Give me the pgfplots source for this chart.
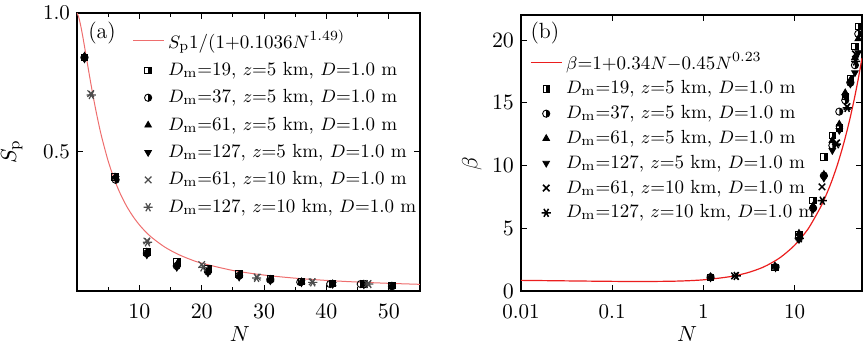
\documentclass[border=0pt]{standalone}
\usepackage{pgfplots}
\pgfplotsset{compat=1.18}
\usetikzlibrary{plotmarks}
\definecolor{fitA}{RGB}{238,110,110}
\definecolor{fitB}{RGB}{235,30,30}
\pgfdeclareplotmark{hsq}{%
  \pgfpathrectangle{\pgfpoint{-\pgfplotmarksize}{-\pgfplotmarksize}}{\pgfpoint{2\pgfplotmarksize}{2\pgfplotmarksize}}%
  \pgfusepathqstroke
  \pgfpathrectangle{\pgfpoint{0pt}{-\pgfplotmarksize}}{\pgfpoint{\pgfplotmarksize}{2\pgfplotmarksize}}%
  \pgfusepathqfill}
\pgfdeclareplotmark{hci}{%
  \pgfpathcircle{\pgfpointorigin}{\pgfplotmarksize}%
  \pgfusepathqstroke
  \pgfpathmoveto{\pgfpoint{0pt}{-\pgfplotmarksize}}%
  \pgfpatharc{-90}{90}{\pgfplotmarksize}%
  \pgfpathclose
  \pgfusepathqfill}
\begin{document}
\begin{tikzpicture}
\useasboundingbox (-38.5pt,-26pt) rectangle (393pt,145.5pt);
\pgfplotsset{
  common/.style={
    scale only axis,
    axis line style={line width=0.6pt},
    every tick/.style={line width=0.5pt,black},
    major tick length=3pt, minor tick length=2pt,
    tick align=inside,
    tick label style={font=\fontsize{10.5}{12}\selectfont},
    xticklabel style={yshift=-3pt},
    legend cell align=left,
    legend style={draw=none, fill=none, font=\fontsize{9.5}{11}\selectfont, inner sep=0pt},
    legend image code/.code={\draw[mark repeat=2,mark phase=2,##1] plot coordinates {(0cm,0cm) (0.27cm,0cm) (0.54cm,0cm)};},
  },
  s1/.style={only marks, mark=hsq, mark size=1.6pt, mark options={draw=black, fill=black, line width=0.45pt}},
  s2/.style={only marks, mark=hci, mark size=1.8pt, mark options={draw=black, fill=black, line width=0.45pt}},
  s3/.style={only marks, mark=triangle*, mark size=1.9pt, mark options={draw=black, fill=black}},
  s4/.style={only marks, mark=triangle*, mark size=1.9pt, mark options={draw=black, fill=black, rotate=180}},
  s5/.style={only marks, mark=x, mark size=2.3pt, mark options={draw=black, line width=0.75pt}},
  s6/.style={only marks, mark=asterisk, mark size=2.3pt, mark options={draw=black, line width=0.75pt, rotate=90}},
}
% ---------------- panel (a) ----------------
\begin{axis}[common,
  at={(0pt,0pt)}, anchor=south west,
  width=171.5pt, height=139pt,
  xmin=0, xmax=55, ymin=0, ymax=1,
  xtick={10,20,30,40,50}, minor xtick={5,15,25,35,45,55},
  ytick={0.5,1}, yticklabels={0.5,1.0},
  xlabel={$N$}, ylabel={$S_{\rm p}$},
  label style={font=\fontsize{11}{13}\selectfont},
  x label style={at={(axis description cs:0.475,-0.155)}, anchor=center},
  y label style={at={(axis description cs:-0.19,0.5)}, anchor=center},
  legend style={at={(axis description cs:0.16,0.955)}, anchor=north west, row sep=1.6pt},
]
\addplot[color=fitA, line width=0.5pt, smooth] coordinates {
(0,1) (0.25,0.987) (0.5,0.9644) (0.75,0.9368) (1,0.9061) (1.5,0.8407) (2,0.7746) (2.5,0.7114) (3,0.6526) (3.5,0.5989) (4,0.5503) (5,0.4674) (6,0.4007) (7,0.3470) (8,0.3034) (9,0.2677) (10,0.2380) (11,0.2132) (12,0.1923) (14,0.1591) (16,0.1342) (18,0.1151) (20,0.1001) (25,0.0739) (30,0.0573) (35,0.0461) (40,0.0381) (45,0.0322) (50,0.0276) (55,0.0240)};
\addlegendentry{$S_{\rm p}$1/(1+0.1036$N^{1.49)}$}
\addplot[s1] coordinates {(1.2,0.84)(6.1,0.41)(11.2,0.14)(16,0.105)(21,0.08)(26,0.062)(31,0.046)(36,0.035)(41,0.028)(46,0.026)(50.5,0.02)};
\addlegendentry{$D_{\rm m}$=19, $z$=5 km, $D$=1.0 m}
\addplot[s2] coordinates {(1.2,0.84)(6.2,0.40)(11.2,0.135)(16,0.09)(21,0.07)(26,0.055)(31,0.04)(35.8,0.032)(40.6,0.025)(45.5,0.025)(50.5,0.017)};
\addlegendentry{$D_{\rm m}$=37, $z$=5 km, $D$=1.0 m}
\addplot[s3] coordinates {(1.2,0.845)(6.1,0.41)(11.2,0.14)(16,0.095)(21,0.075)(26,0.058)(31,0.042)(36,0.033)(41,0.026)(46,0.025)(50.5,0.018)};
\addlegendentry{$D_{\rm m}$=61, $z$=5 km, $D$=1.0 m}
\addplot[s4] coordinates {(1.2,0.835)(6.2,0.405)(11.2,0.13)(16,0.085)(21,0.065)(26,0.05)(31,0.037)(36,0.03)(41,0.024)(46,0.022)(50.5,0.015)};
\addlegendentry{$D_{\rm m}$=127, $z$=5 km, $D$=1.0 m}
\addplot[s5, mark options={draw=black!70, line width=0.6pt}] coordinates {(2.2,0.71)(11.2,0.18)(20,0.095)(28.9,0.05)(37.7,0.033)(46.6,0.026)};
\addlegendentry{$D_{\rm m}$=61, $z$=10 km, $D$=1.0 m}
\addplot[s6, mark options={draw=black!70, line width=0.6pt, rotate=90}] coordinates {(2.3,0.705)(11.3,0.175)(20.2,0.085)(28.8,0.047)(37.8,0.031)(46.8,0.025)};
\addlegendentry{$D_{\rm m}$=127, $z$=10 km, $D$=1.0 m}
\node[font=\fontsize{11}{13}\selectfont] at (axis description cs:0.073,0.928) {(a)};
\end{axis}
% ---------------- panel (b) ----------------
\begin{axis}[common,
  at={(222pt,0pt)}, anchor=south west,
  width=170.5pt, height=138pt,
  xmode=log, xmin=0.01, xmax=55, ymin=0, ymax=22,
  log basis x=10,
  xtick={0.01,0.1,1,10}, xticklabels={0.01,0.1,1,10},
  ytick={0,5,10,15,20},
  xlabel={$N$}, ylabel={$\beta$},
  label style={font=\fontsize{11}{13}\selectfont},
  x label style={at={(axis description cs:0.487,-0.155)}, anchor=center},
  y label style={at={(axis description cs:-0.144,0.46)}, anchor=center},
  legend style={at={(axis description cs:0.026,0.88)}, anchor=north west, row sep=0.3pt},
]
\addplot[color=fitB, line width=0.6pt, smooth] coordinates {
(0.01,0.847) (0.02,0.824) (0.05,0.791) (0.1,0.769) (0.2,0.757) (0.5,0.786) (1,0.89) (2,1.152) (3,1.441) (4,1.741) (5,2.048) (7,2.676) (10,3.636) (13,4.608) (15,5.261) (20,6.904) (25,8.557) (30,10.216) (35,11.881) (40,13.549) (45,15.22) (50,16.893) (55,18.569)};
\addlegendentry{$\beta$=1+0.34$N$$-$0.45$N^{0.23}$}
\addplot[s1] coordinates {(1.2,1.1)(6.1,1.9)(11.2,4.5)(16,7.2)(21,10.7)(26,12.4)(31,13.0)(36,15.5)(41,16.9)(46,19.5)(50,21.1)};
\addlegendentry{$D_{\rm m}$=19, $z$=5 km, $D$=1.0 m}
\addplot[s2] coordinates {(1.2,1.1)(6.2,1.9)(11.2,4.3)(16,6.6)(21,9.2)(26,11.6)(31,14.3)(36,15.2)(41,16.6)(46,18.0)(50,20.5)};
\addlegendentry{$D_{\rm m}$=37, $z$=5 km, $D$=1.0 m}
\addplot[s3] coordinates {(1.2,1.15)(6.1,2.0)(11.2,4.6)(16,6.8)(21,9.3)(26,12.0)(31,13.3)(36,15.8)(41,16.8)(46,18.6)(50,20.1)};
\addlegendentry{$D_{\rm m}$=61, $z$=5 km, $D$=1.0 m}
\addplot[s4] coordinates {(1.2,1.05)(6.2,1.85)(11.2,4.1)(16,6.5)(21,9.0)(26,11.2)(31,12.8)(36,15.5)(41,16.5)(46,17.4)(50,19.0)};
\addlegendentry{$D_{\rm m}$=127, $z$=5 km, $D$=1.0 m}
\addplot[s5] coordinates {(2.2,1.2)(11.2,4.3)(20,8.3)(28.9,11.8)(37.7,14.7)(46.6,18.9)};
\addlegendentry{$D_{\rm m}$=61, $z$=10 km, $D$=1.0 m}
\addplot[s6] coordinates {(2.3,1.2)(11.3,4.2)(20.2,7.2)(28.8,11.7)(37.8,14.6)(46.8,18.3)};
\addlegendentry{$D_{\rm m}$=127, $z$=10 km, $D$=1.0 m}
\node[font=\fontsize{11}{13}\selectfont] at (axis description cs:0.07,0.935) {(b)};
\end{axis}
\end{tikzpicture}
\end{document}
